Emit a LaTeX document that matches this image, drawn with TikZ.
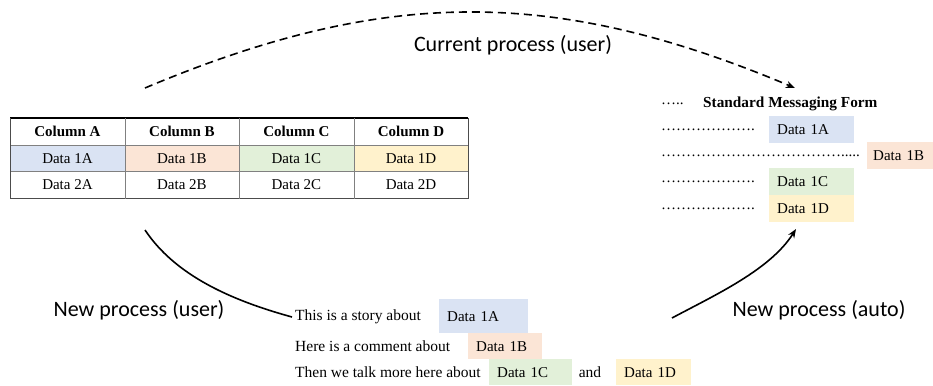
\documentclass[tikz,border=0pt]{standalone}
\usepackage{fontspec}
\setmainfont{Liberation Serif}
\newfontfamily\calfont{Carlito}
\usetikzlibrary{arrows.meta}

\definecolor{cellblue}{HTML}{DAE3F3}
\definecolor{cellorange}{HTML}{FBE5D6}
\definecolor{cellgreen}{HTML}{E2F0D9}
\definecolor{cellyellow}{HTML}{FFF2CC}

\tikzset{
    cell/.style={minimum width=114.5pt, minimum height=26.7pt, inner sep=0pt, anchor=north west, font=\fontsize{15}{17}\selectfont},
    tag/.style={anchor=north west, inner xsep=8pt, inner ysep=0pt, align=left, font=\fontsize{15}{17}\selectfont},
    prose/.style={anchor=west, inner sep=3pt, font=\fontsize{15.5}{18}\selectfont},
    leader/.style={anchor=west, inner sep=0pt, font=\fontsize{15}{17}\selectfont},
    proc/.style={font=\calfont\fontsize{22}{26}\selectfont},
    flow/.style={line width=1.6pt},
}

\begin{document}
\begin{tikzpicture}[x=1pt, y=-1pt]
    \useasboundingbox (0,0) rectangle (933,385);
    \def\colw{114.5} % column width
    \def\tabx{10} % left edge of the table

    % Table cells
    \foreach \c/\col [count=\i from 0] in {A/cellblue, B/cellorange, C/cellgreen, D/cellyellow} {
        \node[cell, font=\fontsize{15}{17}\selectfont\bfseries] (head\c) at ({\tabx+\colw*\i}, 118) {Column \c};
        \node[cell, fill=\col] (one\c) at ({\tabx+\colw*\i}, 144.7) {Data 1\c};
        \node[cell] (two\c) at ({\tabx+\colw*\i}, 171.4) {Data 2\c};
    }

    % Table rules
    \draw[line width=1.2pt] (headA.north west) -- (headD.north east);
    \draw[gray] (oneA.north west) -- (oneD.north east);
    \draw[gray] (twoA.north west) -- (twoD.north east);
    \draw[line width=0.8pt, black!70] (twoA.south west) -- (twoD.south east);
    \draw[black!70] (headA.north west) -- (twoA.south west);
    \foreach \c in {A, B, C} {
        \draw[gray] (head\c.north east) -- (two\c.south east);
    }
    \draw[black!70] (headD.north east) -- (twoD.south east);

    % Standard messaging form
    \node[leader] (formdots) at (661,104) {…..};
    \node[anchor=west, inner sep=0pt, font=\fontsize{15.3}{17}\selectfont\bfseries] (formtitle) at (703,104) {Standard Messaging Form};
    \node[leader] (dotsA) at (661,130) {……………….};
    \node[tag, fill=cellblue, text width=69pt, minimum height=27pt] (formA) at (769,116) {Data 1A};
    \node[leader] (dotsB) at (661,156) {……………………………….....};
    \node[tag, fill=cellorange, inner xsep=6pt, text width=54pt, minimum height=27pt] (formB) at (867,142) {Data 1B};
    \node[leader] (dotsC) at (661,182) {……………….};
    \node[tag, fill=cellgreen, text width=69pt, minimum height=27pt] (formC) at (769,168) {Data 1C};
    \node[leader] (dotsD) at (661,209) {……………….};
    \node[tag, fill=cellyellow, text width=69pt, minimum height=27pt] (formD) at (769,195) {Data 1D};

    % Free text with the same data
    \node[prose] (story) at (292,317) {This is a story about};
    \node[tag, fill=cellblue, text width=73pt, minimum height=34pt] (storyA) at (439,299) {Data 1A};
    \node[prose] (comment) at (292,346) {Here is a comment about};
    \node[tag, fill=cellorange, text width=58pt, minimum height=26pt] (commentB) at (468,333) {Data 1B};
    \node[prose] (talk) at (292,372) {Then we talk more here about};
    \node[tag, fill=cellgreen, text width=67pt, minimum height=26pt] (talkC) at (489,359) {Data 1C};
    \node[prose, anchor=center] (and) at (590,372) {and};
    \node[tag, fill=cellyellow, text width=59pt, minimum height=26pt] (talkD) at (616,359) {Data 1D};

    % Process labels
    \node[proc] (current) at (513,45) {Current process (user)};
    \node[proc] (newuser) at (139,310) {New process (user)};
    \node[proc] (newauto) at (819,310) {New process (auto)};

    % Arcs between the three forms
    \coordinate (tabletop) at (145,88);
    \coordinate (formtop) at (795,88);
    \coordinate (tablebot) at (145,230);
    \coordinate (autostart) at (672,318);
    \coordinate (formbot) at (796,229);
    \draw[flow, dash pattern=on 8pt off 5pt, -{Stealth[length=9pt, width=7pt]}] (tabletop) .. controls (385,-13) and (555,-13) .. (formtop);
    \draw[flow] (tablebot) .. controls (175,275) and (230,300) .. (story.west);
    \draw[flow, -{Stealth[length=9pt, width=7pt]}] (autostart) .. controls (715,295) and (770,270) .. (formbot);
\end{tikzpicture}
\end{document}
